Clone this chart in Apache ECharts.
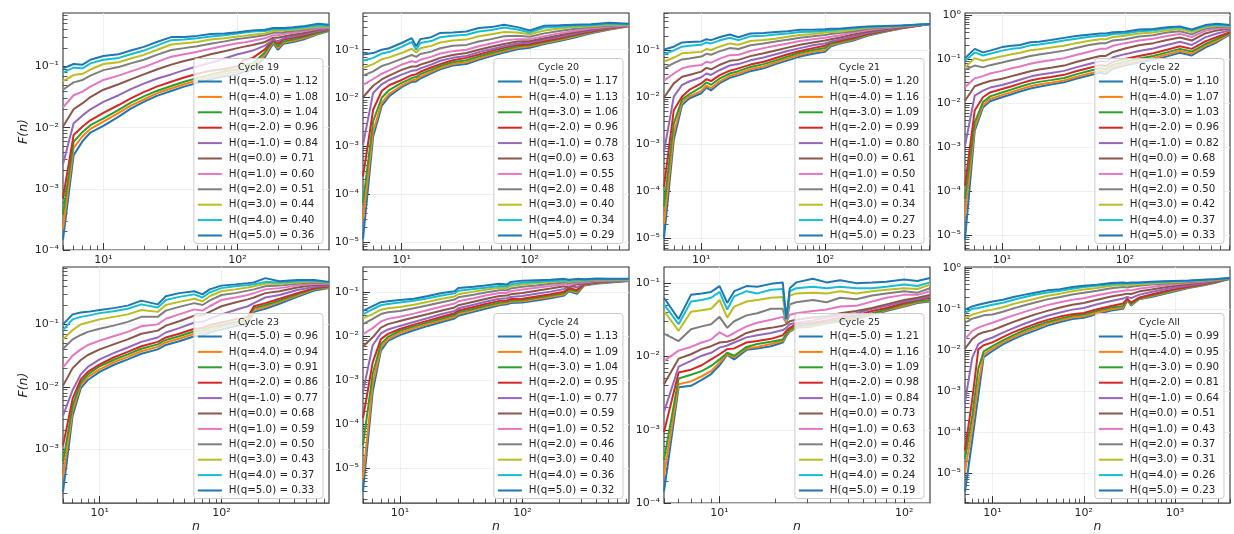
<!DOCTYPE html>
<html><head><meta charset="utf-8">
<script src="https://cdn.jsdelivr.net/npm/echarts@6/dist/echarts.min.js"></script>
<style>html,body{margin:0;padding:0;background:#fff}#c{width:1234px;height:534px}</style>
</head><body><div id="c"></div>
<script>
// ---------------- DATA (F(n) stored as log10 F) ----------------
const Q_LABELS = ['-5.0','-4.0','-3.0','-2.0','-1.0','0.0','1.0','2.0','3.0','4.0','5.0'];

const C19_N = [5,6,7,8,10,13,16,20,25,32,40,50,63,80,100,110,130,160,185,200,220,260,320,400,481];
const C19_H = [1.12,1.08,1.04,0.96,0.84,0.71,0.60,0.51,0.44,0.40,0.36];
const C19_LOGF = [
 [-3.83,-2.45,-2.22,-2.08,-1.97,-1.82,-1.69,-1.58,-1.48,-1.40,-1.33,-1.27,-1.21,-1.16,-1.13,-1.09,-1.05,-0.85,-0.62,-0.73,-0.63,-0.60,-0.55,-0.47,-0.42],
 [-3.65,-2.33,-2.14,-2.02,-1.90,-1.76,-1.64,-1.54,-1.44,-1.36,-1.29,-1.23,-1.17,-1.12,-1.09,-1.04,-1.00,-0.81,-0.60,-0.70,-0.61,-0.58,-0.53,-0.46,-0.41],
 [-3.42,-2.23,-2.07,-1.96,-1.85,-1.71,-1.59,-1.49,-1.40,-1.32,-1.25,-1.19,-1.13,-1.08,-1.05,-0.98,-0.95,-0.77,-0.58,-0.67,-0.59,-0.56,-0.51,-0.45,-0.41],
 [-3.15,-2.12,-1.98,-1.88,-1.76,-1.63,-1.52,-1.42,-1.33,-1.25,-1.18,-1.12,-1.07,-1.04,-1.00,-0.90,-0.86,-0.72,-0.56,-0.63,-0.56,-0.53,-0.49,-0.43,-0.40],
 [-2.60,-1.93,-1.80,-1.70,-1.58,-1.47,-1.37,-1.28,-1.20,-1.13,-1.06,-1.00,-0.94,-0.87,-0.80,-0.78,-0.74,-0.66,-0.56,-0.59,-0.54,-0.51,-0.47,-0.42,-0.39],
 [-1.98,-1.70,-1.60,-1.50,-1.38,-1.29,-1.21,-1.13,-1.05,-0.97,-0.91,-0.86,-0.80,-0.75,-0.70,-0.68,-0.65,-0.60,-0.53,-0.53,-0.51,-0.48,-0.45,-0.40,-0.38],
 [-1.67,-1.47,-1.41,-1.33,-1.22,-1.15,-1.08,-1.01,-0.93,-0.84,-0.80,-0.76,-0.71,-0.66,-0.62,-0.61,-0.58,-0.54,-0.49,-0.49,-0.47,-0.45,-0.42,-0.38,-0.37],
 [-1.38,-1.26,-1.22,-1.15,-1.06,-1.01,-0.95,-0.89,-0.81,-0.73,-0.70,-0.67,-0.63,-0.59,-0.55,-0.54,-0.52,-0.49,-0.45,-0.45,-0.44,-0.42,-0.40,-0.36,-0.36],
 [-1.24,-1.14,-1.12,-1.05,-0.96,-0.93,-0.87,-0.81,-0.73,-0.64,-0.62,-0.60,-0.56,-0.54,-0.51,-0.50,-0.48,-0.46,-0.42,-0.42,-0.41,-0.40,-0.38,-0.35,-0.35],
 [-1.10,-1.02,-1.03,-0.95,-0.89,-0.86,-0.80,-0.74,-0.66,-0.57,-0.56,-0.54,-0.51,-0.49,-0.46,-0.45,-0.43,-0.42,-0.39,-0.39,-0.39,-0.38,-0.36,-0.33,-0.34],
 [-1.03,-0.96,-0.97,-0.89,-0.83,-0.80,-0.74,-0.68,-0.60,-0.52,-0.52,-0.50,-0.47,-0.46,-0.44,-0.43,-0.41,-0.40,-0.37,-0.37,-0.37,-0.36,-0.34,-0.30,-0.32]
];

const C20_N = [5,6,7,8,10,12,13,14,17,20,25,32,40,50,63,80,100,130,170,220,300,420,594];
const C20_H = [1.17,1.13,1.06,0.96,0.78,0.63,0.55,0.48,0.40,0.34,0.29];
const C20_LOGF = [
 [-4.94,-2.81,-2.17,-1.97,-1.78,-1.67,-1.66,-1.60,-1.49,-1.41,-1.33,-1.30,-1.21,-1.13,-1.06,-0.99,-0.96,-0.88,-0.82,-0.75,-0.66,-0.58,-0.51],
 [-4.54,-2.70,-2.10,-1.92,-1.75,-1.64,-1.62,-1.56,-1.46,-1.38,-1.30,-1.26,-1.18,-1.10,-1.03,-0.96,-0.93,-0.86,-0.80,-0.73,-0.64,-0.57,-0.51],
 [-4.19,-2.49,-2.00,-1.84,-1.69,-1.59,-1.57,-1.51,-1.42,-1.34,-1.26,-1.22,-1.14,-1.07,-1.00,-0.93,-0.90,-0.84,-0.78,-0.71,-0.63,-0.56,-0.50],
 [-3.64,-2.25,-1.86,-1.74,-1.63,-1.53,-1.51,-1.46,-1.37,-1.30,-1.22,-1.17,-1.10,-1.03,-0.96,-0.90,-0.88,-0.82,-0.76,-0.69,-0.62,-0.55,-0.50],
 [-2.98,-1.90,-1.72,-1.63,-1.52,-1.44,-1.43,-1.39,-1.31,-1.23,-1.17,-1.13,-1.05,-0.99,-0.93,-0.87,-0.85,-0.79,-0.73,-0.67,-0.60,-0.54,-0.50],
 [-1.99,-1.75,-1.62,-1.54,-1.42,-1.35,-1.35,-1.31,-1.24,-1.17,-1.11,-1.07,-1.00,-0.94,-0.88,-0.83,-0.82,-0.76,-0.70,-0.64,-0.58,-0.53,-0.49],
 [-1.73,-1.61,-1.50,-1.43,-1.31,-1.24,-1.26,-1.21,-1.15,-1.08,-1.03,-1.00,-0.93,-0.87,-0.81,-0.78,-0.78,-0.72,-0.66,-0.61,-0.56,-0.52,-0.49],
 [-1.54,-1.45,-1.34,-1.29,-1.19,-1.11,-1.15,-1.09,-1.04,-0.97,-0.92,-0.90,-0.83,-0.78,-0.72,-0.71,-0.73,-0.66,-0.61,-0.57,-0.53,-0.50,-0.48],
 [-1.38,-1.30,-1.20,-1.16,-1.07,-0.98,-1.06,-0.97,-0.92,-0.85,-0.81,-0.79,-0.72,-0.68,-0.63,-0.64,-0.68,-0.60,-0.56,-0.53,-0.51,-0.48,-0.48],
 [-1.23,-1.17,-1.08,-1.05,-0.94,-0.84,-1.00,-0.86,-0.82,-0.74,-0.71,-0.69,-0.62,-0.59,-0.54,-0.58,-0.64,-0.54,-0.52,-0.50,-0.49,-0.46,-0.47],
 [-1.10,-1.07,-1.00,-0.97,-0.86,-0.76,-0.93,-0.78,-0.74,-0.65,-0.64,-0.62,-0.55,-0.53,-0.48,-0.53,-0.60,-0.50,-0.49,-0.48,-0.47,-0.44,-0.46]
];

const C21_N = [5,6,7,8,10,11,12,14,17,20,25,32,40,50,63,80,100,112,130,170,220,300,420,708];
const C21_H = [1.20,1.16,1.09,0.99,0.80,0.61,0.50,0.41,0.34,0.27,0.23];
const C21_LOGF = [
 [-5.00,-2.91,-2.17,-2.03,-1.92,-1.80,-1.86,-1.71,-1.59,-1.54,-1.45,-1.39,-1.30,-1.22,-1.14,-1.08,-1.04,-0.92,-0.87,-0.80,-0.70,-0.62,-0.54,-0.45],
 [-4.69,-2.77,-2.10,-1.99,-1.87,-1.76,-1.81,-1.67,-1.55,-1.50,-1.41,-1.35,-1.26,-1.18,-1.10,-1.04,-1.00,-0.89,-0.85,-0.78,-0.68,-0.61,-0.54,-0.45],
 [-4.33,-2.56,-2.05,-1.94,-1.79,-1.69,-1.74,-1.61,-1.50,-1.45,-1.36,-1.30,-1.22,-1.14,-1.06,-1.00,-0.96,-0.86,-0.83,-0.76,-0.67,-0.60,-0.53,-0.45],
 [-3.91,-2.28,-1.99,-1.85,-1.71,-1.62,-1.66,-1.54,-1.44,-1.39,-1.31,-1.25,-1.17,-1.09,-1.02,-0.96,-0.91,-0.83,-0.81,-0.74,-0.66,-0.59,-0.53,-0.45],
 [-3.16,-1.99,-1.74,-1.67,-1.58,-1.50,-1.53,-1.43,-1.33,-1.30,-1.22,-1.16,-1.09,-1.02,-0.96,-0.90,-0.86,-0.82,-0.78,-0.71,-0.64,-0.58,-0.52,-0.45],
 [-2.01,-1.71,-1.57,-1.53,-1.46,-1.38,-1.41,-1.32,-1.23,-1.21,-1.13,-1.07,-1.01,-0.95,-0.89,-0.84,-0.80,-0.77,-0.74,-0.67,-0.61,-0.56,-0.51,-0.45],
 [-1.65,-1.50,-1.39,-1.35,-1.32,-1.25,-1.27,-1.19,-1.11,-1.10,-1.02,-0.96,-0.91,-0.86,-0.81,-0.77,-0.74,-0.72,-0.69,-0.63,-0.58,-0.54,-0.50,-0.45],
 [-1.39,-1.28,-1.20,-1.18,-1.14,-1.08,-1.10,-1.03,-0.96,-0.98,-0.90,-0.86,-0.82,-0.78,-0.74,-0.71,-0.68,-0.66,-0.64,-0.60,-0.55,-0.52,-0.49,-0.45],
 [-1.25,-1.16,-1.07,-1.06,-1.04,-0.98,-1.00,-0.93,-0.86,-0.89,-0.81,-0.79,-0.76,-0.72,-0.68,-0.66,-0.63,-0.62,-0.61,-0.57,-0.53,-0.51,-0.49,-0.45],
 [-1.09,-1.01,-0.93,-0.91,-0.89,-0.84,-0.86,-0.80,-0.74,-0.79,-0.71,-0.70,-0.67,-0.65,-0.62,-0.61,-0.59,-0.58,-0.57,-0.54,-0.51,-0.50,-0.48,-0.45],
 [-0.99,-0.93,-0.84,-0.83,-0.82,-0.77,-0.79,-0.73,-0.67,-0.73,-0.65,-0.64,-0.62,-0.60,-0.57,-0.57,-0.56,-0.55,-0.55,-0.52,-0.50,-0.49,-0.48,-0.45]
];

const C22_N = [5,6,7,8,10,12,14,17,20,25,32,40,50,63,70,80,100,130,170,220,280,350,450,560,716];
const C22_H = [1.10,1.07,1.03,0.96,0.82,0.68,0.59,0.50,0.42,0.37,0.33];
const C22_LOGF = [
 [-5.10,-2.63,-2.10,-1.96,-1.87,-1.80,-1.74,-1.67,-1.63,-1.58,-1.53,-1.45,-1.38,-1.31,-1.34,-1.22,-1.15,-1.08,-1.02,-0.94,-0.86,-0.92,-0.74,-0.62,-0.44],
 [-4.56,-2.55,-2.05,-1.91,-1.82,-1.75,-1.69,-1.62,-1.58,-1.54,-1.49,-1.41,-1.34,-1.27,-1.29,-1.18,-1.11,-1.04,-0.98,-0.90,-0.82,-0.88,-0.70,-0.59,-0.43],
 [-4.18,-2.44,-1.98,-1.85,-1.76,-1.69,-1.63,-1.56,-1.52,-1.48,-1.43,-1.35,-1.28,-1.21,-1.23,-1.13,-1.06,-0.99,-0.93,-0.85,-0.77,-0.83,-0.66,-0.55,-0.41],
 [-3.88,-2.17,-1.87,-1.76,-1.68,-1.62,-1.56,-1.49,-1.45,-1.41,-1.36,-1.28,-1.21,-1.14,-1.16,-1.06,-1.00,-0.93,-0.87,-0.79,-0.71,-0.77,-0.60,-0.50,-0.39],
 [-2.97,-1.83,-1.72,-1.65,-1.59,-1.53,-1.47,-1.40,-1.36,-1.32,-1.27,-1.19,-1.12,-1.05,-1.06,-0.96,-0.89,-0.82,-0.76,-0.68,-0.61,-0.68,-0.51,-0.42,-0.35],
 [-1.95,-1.62,-1.55,-1.50,-1.45,-1.39,-1.34,-1.28,-1.24,-1.20,-1.15,-1.07,-1.00,-0.93,-0.93,-0.84,-0.76,-0.69,-0.64,-0.57,-0.51,-0.58,-0.42,-0.35,-0.31],
 [-1.64,-1.44,-1.39,-1.33,-1.27,-1.21,-1.17,-1.11,-1.07,-1.03,-0.98,-0.91,-0.84,-0.77,-0.77,-0.70,-0.64,-0.58,-0.54,-0.48,-0.43,-0.50,-0.36,-0.31,-0.29],
 [-1.24,-1.15,-1.19,-1.14,-1.08,-1.03,-0.99,-0.93,-0.90,-0.86,-0.81,-0.75,-0.69,-0.64,-0.64,-0.58,-0.55,-0.49,-0.46,-0.40,-0.37,-0.44,-0.31,-0.28,-0.27],
 [-1.19,-0.98,-1.04,-1.00,-0.94,-0.89,-0.86,-0.80,-0.78,-0.74,-0.70,-0.64,-0.59,-0.55,-0.55,-0.50,-0.47,-0.42,-0.40,-0.35,-0.32,-0.39,-0.28,-0.25,-0.25],
 [-1.04,-0.85,-0.92,-0.88,-0.81,-0.77,-0.75,-0.69,-0.67,-0.63,-0.58,-0.54,-0.50,-0.47,-0.47,-0.43,-0.42,-0.37,-0.35,-0.31,-0.28,-0.35,-0.25,-0.23,-0.24],
 [-0.98,-0.77,-0.85,-0.81,-0.73,-0.70,-0.68,-0.62,-0.61,-0.57,-0.52,-0.48,-0.45,-0.42,-0.42,-0.39,-0.38,-0.33,-0.32,-0.28,-0.26,-0.33,-0.23,-0.20,-0.23]
];

const C23_N = [5,6,7,8,10,13,17,22,30,35,45,60,70,80,100,130,165,185,230,300,420,580,766];
const C23_H = [0.96,0.94,0.91,0.86,0.77,0.68,0.59,0.50,0.43,0.37,0.33];
const C23_LOGF = [
 [-3.68,-2.46,-2.02,-1.89,-1.76,-1.65,-1.56,-1.47,-1.40,-1.33,-1.27,-1.19,-1.18,-1.13,-1.08,-1.03,-0.99,-0.80,-0.75,-0.67,-0.56,-0.46,-0.42],
 [-3.44,-2.38,-1.97,-1.84,-1.72,-1.61,-1.52,-1.43,-1.36,-1.29,-1.23,-1.15,-1.14,-1.09,-1.04,-0.99,-0.95,-0.77,-0.72,-0.64,-0.54,-0.44,-0.41],
 [-3.20,-2.30,-1.93,-1.80,-1.67,-1.57,-1.48,-1.39,-1.32,-1.25,-1.19,-1.11,-1.10,-1.05,-1.01,-0.96,-0.92,-0.74,-0.69,-0.62,-0.52,-0.43,-0.40],
 [-2.94,-2.19,-1.88,-1.76,-1.64,-1.53,-1.44,-1.35,-1.28,-1.21,-1.15,-1.07,-1.06,-1.01,-0.97,-0.92,-0.88,-0.71,-0.66,-0.59,-0.50,-0.42,-0.39],
 [-2.46,-2.05,-1.80,-1.68,-1.56,-1.46,-1.37,-1.28,-1.21,-1.13,-1.06,-0.97,-0.96,-0.91,-0.84,-0.77,-0.71,-0.66,-0.57,-0.53,-0.45,-0.40,-0.38],
 [-1.98,-1.70,-1.57,-1.49,-1.40,-1.32,-1.24,-1.15,-1.10,-1.02,-0.95,-0.86,-0.86,-0.80,-0.71,-0.65,-0.60,-0.57,-0.50,-0.47,-0.41,-0.37,-0.37],
 [-1.69,-1.50,-1.40,-1.33,-1.26,-1.19,-1.12,-1.03,-1.00,-0.91,-0.84,-0.76,-0.78,-0.71,-0.61,-0.57,-0.53,-0.50,-0.44,-0.42,-0.38,-0.35,-0.36],
 [-1.39,-1.24,-1.17,-1.12,-1.07,-1.02,-0.96,-0.88,-0.88,-0.78,-0.72,-0.66,-0.69,-0.62,-0.53,-0.50,-0.46,-0.44,-0.39,-0.38,-0.35,-0.33,-0.35],
 [-1.24,-1.09,-1.00,-0.97,-0.92,-0.88,-0.84,-0.77,-0.80,-0.69,-0.64,-0.59,-0.63,-0.55,-0.47,-0.44,-0.41,-0.39,-0.35,-0.35,-0.33,-0.31,-0.34],
 [-1.09,-0.92,-0.88,-0.86,-0.82,-0.79,-0.75,-0.68,-0.73,-0.61,-0.56,-0.52,-0.57,-0.49,-0.42,-0.39,-0.37,-0.36,-0.32,-0.33,-0.31,-0.30,-0.33],
 [-1.00,-0.84,-0.81,-0.80,-0.77,-0.74,-0.70,-0.62,-0.68,-0.55,-0.50,-0.47,-0.52,-0.44,-0.38,-0.36,-0.34,-0.33,-0.26,-0.31,-0.29,-0.29,-0.32]
];

const C24_N = [5,6,7,8,10,13,17,22,28,30,40,50,65,75,80,100,130,170,220,240,280,320,400,520,743];
const C24_H = [1.13,1.09,1.04,0.95,0.77,0.59,0.52,0.46,0.40,0.36,0.32];
const C24_LOGF = [
 [-5.52,-3.26,-2.32,-2.10,-1.97,-1.86,-1.76,-1.67,-1.59,-1.53,-1.44,-1.37,-1.29,-1.27,-1.24,-1.23,-1.18,-1.13,-1.07,-0.97,-1.03,-0.84,-0.80,-0.77,-0.74],
 [-5.22,-3.08,-2.25,-2.06,-1.92,-1.81,-1.72,-1.63,-1.55,-1.49,-1.40,-1.33,-1.26,-1.24,-1.21,-1.20,-1.15,-1.10,-1.04,-0.95,-1.00,-0.83,-0.79,-0.76,-0.73],
 [-4.47,-2.85,-2.17,-2.01,-1.87,-1.77,-1.68,-1.59,-1.51,-1.45,-1.37,-1.30,-1.23,-1.21,-1.18,-1.17,-1.12,-1.07,-1.01,-0.93,-0.97,-0.82,-0.78,-0.76,-0.73],
 [-3.86,-2.59,-2.06,-1.94,-1.83,-1.73,-1.64,-1.55,-1.47,-1.41,-1.33,-1.26,-1.19,-1.18,-1.15,-1.14,-1.09,-1.04,-0.98,-0.90,-0.94,-0.81,-0.77,-0.75,-0.73],
 [-3.26,-2.20,-1.93,-1.84,-1.76,-1.67,-1.58,-1.49,-1.42,-1.36,-1.28,-1.21,-1.14,-1.13,-1.10,-1.08,-1.03,-0.98,-0.92,-0.85,-0.88,-0.80,-0.76,-0.75,-0.73],
 [-2.23,-2.02,-1.80,-1.72,-1.65,-1.57,-1.49,-1.41,-1.34,-1.29,-1.21,-1.15,-1.08,-1.07,-1.04,-1.01,-0.96,-0.91,-0.86,-0.89,-0.81,-0.79,-0.75,-0.74,-0.72],
 [-1.95,-1.81,-1.66,-1.60,-1.55,-1.48,-1.40,-1.32,-1.25,-1.20,-1.13,-1.07,-1.01,-1.01,-0.97,-0.93,-0.89,-0.85,-0.81,-0.84,-0.78,-0.77,-0.74,-0.73,-0.72],
 [-1.72,-1.60,-1.49,-1.45,-1.42,-1.36,-1.29,-1.22,-1.16,-1.11,-1.05,-1.00,-0.95,-0.95,-0.91,-0.87,-0.84,-0.80,-0.77,-0.79,-0.75,-0.75,-0.72,-0.72,-0.71],
 [-1.59,-1.49,-1.39,-1.36,-1.33,-1.28,-1.21,-1.14,-1.09,-1.04,-0.98,-0.94,-0.89,-0.90,-0.85,-0.82,-0.79,-0.76,-0.74,-0.76,-0.73,-0.73,-0.71,-0.71,-0.71],
 [-1.50,-1.38,-1.29,-1.26,-1.23,-1.19,-1.13,-1.07,-1.02,-0.96,-0.92,-0.89,-0.85,-0.86,-0.81,-0.78,-0.76,-0.74,-0.72,-0.74,-0.71,-0.72,-0.70,-0.70,-0.70],
 [-1.42,-1.31,-1.22,-1.20,-1.17,-1.14,-1.08,-1.01,-0.97,-0.90,-0.87,-0.84,-0.80,-0.82,-0.76,-0.73,-0.72,-0.71,-0.69,-0.71,-0.69,-0.70,-0.68,-0.69,-0.69]
];

const C25_N = [5,6,7,8,9,10,11,12,14,16,19,22,23,24,26,32,38,45,55,67,80,100,118,138];
const C25_H = [1.21,1.16,1.09,0.98,0.84,0.73,0.63,0.46,0.32,0.24,0.19];
const C25_LOGF = [
 [-3.84,-2.42,-2.40,-2.32,-2.24,-2.12,-1.98,-2.04,-1.91,-1.89,-1.86,-1.81,-1.72,-1.66,-1.61,-1.59,-1.55,-1.52,-1.49,-1.43,-1.38,-1.32,-1.27,-1.25],
 [-3.62,-2.38,-2.34,-2.27,-2.20,-2.08,-1.97,-2.01,-1.89,-1.87,-1.83,-1.79,-1.70,-1.65,-1.60,-1.58,-1.54,-1.51,-1.47,-1.42,-1.37,-1.31,-1.26,-1.24],
 [-3.41,-2.30,-2.25,-2.20,-2.13,-2.04,-1.95,-1.99,-1.87,-1.83,-1.80,-1.77,-1.69,-1.63,-1.59,-1.56,-1.53,-1.50,-1.46,-1.41,-1.36,-1.29,-1.25,-1.23],
 [-3.03,-2.22,-2.18,-2.12,-2.04,-1.97,-1.90,-1.89,-1.81,-1.79,-1.76,-1.71,-1.65,-1.61,-1.56,-1.54,-1.51,-1.47,-1.44,-1.38,-1.34,-1.27,-1.23,-1.20],
 [-2.76,-2.14,-2.06,-1.99,-1.95,-1.88,-1.85,-1.81,-1.74,-1.71,-1.68,-1.64,-1.61,-1.56,-1.54,-1.51,-1.47,-1.44,-1.41,-1.35,-1.31,-1.25,-1.22,-1.18],
 [-2.38,-2.03,-1.97,-1.90,-1.86,-1.81,-1.80,-1.77,-1.68,-1.64,-1.61,-1.58,-1.56,-1.52,-1.50,-1.47,-1.45,-1.41,-1.38,-1.34,-1.29,-1.23,-1.20,-1.16],
 [-2.06,-1.92,-1.87,-1.81,-1.77,-1.67,-1.73,-1.68,-1.59,-1.54,-1.50,-1.46,-1.54,-1.43,-1.41,-1.38,-1.36,-1.32,-1.31,-1.25,-1.20,-1.16,-1.16,-1.11],
 [-1.69,-1.79,-1.63,-1.59,-1.56,-1.46,-1.61,-1.52,-1.44,-1.41,-1.35,-1.35,-1.54,-1.29,-1.26,-1.23,-1.26,-1.20,-1.22,-1.17,-1.14,-1.11,-1.13,-1.07],
 [-1.38,-1.65,-1.39,-1.37,-1.35,-1.23,-1.47,-1.32,-1.25,-1.23,-1.20,-1.19,-1.52,-1.17,-1.14,-1.13,-1.14,-1.11,-1.14,-1.11,-1.09,-1.07,-1.08,-1.02],
 [-1.29,-1.56,-1.25,-1.23,-1.20,-1.12,-1.36,-1.18,-1.11,-1.14,-1.09,-1.08,-1.49,-1.11,-1.07,-1.05,-1.07,-1.05,-1.07,-1.07,-1.05,-1.02,-1.04,-0.99],
 [-1.20,-1.49,-1.16,-1.14,-1.12,-1.04,-1.27,-1.11,-1.04,-1.05,-1.01,-0.99,-1.49,-1.07,-0.99,-0.94,-0.99,-0.96,-1.00,-0.99,-0.98,-0.95,-0.97,-0.93]
];

const CALL_N = [5,6,7,8,10,13,17,22,30,40,55,75,100,140,200,270,300,330,400,550,750,1000,1400,2000,2700,4000];
const CALL_H = [0.99,0.95,0.90,0.81,0.64,0.51,0.43,0.37,0.31,0.26,0.23];
const CALL_LOGF = [
 [-5.45,-4.20,-3.10,-2.17,-2.02,-1.86,-1.73,-1.62,-1.51,-1.40,-1.31,-1.24,-1.21,-1.12,-1.03,-0.99,-0.78,-0.91,-0.76,-0.70,-0.63,-0.56,-0.48,-0.42,-0.36,-0.26],
 [-4.96,-3.90,-2.80,-2.10,-1.96,-1.81,-1.68,-1.57,-1.46,-1.35,-1.27,-1.20,-1.17,-1.08,-1.00,-0.96,-0.77,-0.89,-0.75,-0.68,-0.61,-0.54,-0.47,-0.41,-0.35,-0.26],
 [-4.64,-3.60,-2.45,-2.03,-1.90,-1.76,-1.63,-1.52,-1.41,-1.31,-1.23,-1.16,-1.13,-1.04,-0.96,-0.92,-0.76,-0.87,-0.74,-0.66,-0.59,-0.52,-0.46,-0.40,-0.34,-0.26],
 [-4.44,-3.20,-1.98,-1.88,-1.81,-1.68,-1.56,-1.46,-1.35,-1.26,-1.18,-1.12,-1.09,-1.00,-0.92,-0.86,-0.74,-0.84,-0.72,-0.64,-0.57,-0.51,-0.45,-0.39,-0.33,-0.25],
 [-3.27,-2.18,-1.85,-1.77,-1.69,-1.57,-1.46,-1.36,-1.25,-1.16,-1.08,-1.01,-0.97,-0.88,-0.80,-0.74,-0.70,-0.73,-0.65,-0.58,-0.52,-0.47,-0.42,-0.37,-0.32,-0.25],
 [-1.96,-1.73,-1.61,-1.56,-1.51,-1.41,-1.31,-1.22,-1.12,-1.04,-0.96,-0.89,-0.85,-0.77,-0.69,-0.64,-0.62,-0.63,-0.57,-0.52,-0.47,-0.43,-0.39,-0.35,-0.31,-0.25],
 [-1.73,-1.53,-1.45,-1.40,-1.33,-1.24,-1.15,-1.07,-0.98,-0.90,-0.83,-0.77,-0.73,-0.66,-0.59,-0.55,-0.54,-0.54,-0.50,-0.46,-0.42,-0.39,-0.36,-0.33,-0.30,-0.25],
 [-1.33,-1.23,-1.19,-1.15,-1.13,-1.06,-0.98,-0.91,-0.83,-0.76,-0.70,-0.64,-0.60,-0.55,-0.49,-0.46,-0.47,-0.45,-0.43,-0.40,-0.38,-0.36,-0.34,-0.31,-0.29,-0.25],
 [-1.23,-1.13,-1.09,-1.05,-1.01,-0.95,-0.87,-0.81,-0.74,-0.67,-0.62,-0.56,-0.52,-0.48,-0.43,-0.41,-0.42,-0.41,-0.39,-0.37,-0.35,-0.34,-0.32,-0.30,-0.28,-0.24],
 [-1.09,-0.99,-0.97,-0.94,-0.89,-0.84,-0.77,-0.71,-0.64,-0.59,-0.55,-0.50,-0.46,-0.43,-0.39,-0.37,-0.38,-0.37,-0.36,-0.35,-0.33,-0.32,-0.31,-0.29,-0.27,-0.24],
 [-1.01,-0.93,-0.89,-0.86,-0.81,-0.77,-0.70,-0.65,-0.59,-0.54,-0.51,-0.46,-0.43,-0.40,-0.36,-0.35,-0.36,-0.35,-0.35,-0.33,-0.32,-0.31,-0.30,-0.28,-0.27,-0.24]
];

// ---------------- LAYOUT / STYLE ----------------
const COLORS = ['#1f77b4','#ff7f0e','#2ca02c','#d62728','#9467bd','#8c564b','#e377c2','#7f7f7f','#bcbd22','#17becf','#1f77b4'];
const PANELS = [
 {title:'Cycle 19', n:C19_N, H:C19_H, logF:C19_LOGF, xr:[5,481],  yr:[-4.0,-0.126], box:[63,13,266,237],  row:0, col:0},
 {title:'Cycle 20', n:C20_N, H:C20_H, logF:C20_LOGF, xr:[5,594],  yr:[-5.17,-0.236], box:[363,13,266,237], row:0, col:1},
 {title:'Cycle 21', n:C21_N, H:C21_H, logF:C21_LOGF, xr:[5,708],  yr:[-5.25,-0.214], box:[664,13,266,237], row:0, col:2},
 {title:'Cycle 22', n:C22_N, H:C22_H, logF:C22_LOGF, xr:[5,716],  yr:[-5.34,0.045],  box:[965,13,265,237], row:0, col:3},
 {title:'Cycle 23', n:C23_N, H:C23_H, logF:C23_LOGF, xr:[5,766],  yr:[-3.86,-0.082], box:[63,267,266,238],  row:1, col:0},
 {title:'Cycle 24', n:C24_N, H:C24_H, logF:C24_LOGF, xr:[5,743],  yr:[-5.79,-0.42],  box:[363,267,266,238], row:1, col:1},
 {title:'Cycle 25', n:C25_N, H:C25_H, logF:C25_LOGF, xr:[5,138],  yr:[-4.0,-0.78],   box:[664,267,266,238], row:1, col:2},
 {title:'Cycle All',n:CALL_N,H:CALL_H,logF:CALL_LOGF,xr:[5,4000], yr:[-5.73,0.03],   box:[965,267,265,238], row:1, col:3}
];
const FONT = 'DejaVu Sans';
const TXT = '#262626';
const SUP = {'-':'\u207B','0':'\u2070','1':'\u00B9','2':'\u00B2','3':'\u00B3','4':'\u2074','5':'\u2075','6':'\u2076','7':'\u2077','8':'\u2078','9':'\u2079'};
function fmtPow(v){const e=Math.round(Math.log10(v));return '10'+String(e).split('').map(c=>SUP[c]).join('');}
function majors(a,b){const r=[];for(let e=Math.ceil(Math.log10(a)-1e-9);e<=Math.floor(Math.log10(b)+1e-9);e++)r.push(Math.pow(10,e));return r;}
function minors(a,b){const r=[];for(let e=Math.floor(Math.log10(a))-1;e<=Math.ceil(Math.log10(b));e++)for(let k=2;k<=9;k++){const v=k*Math.pow(10,e);if(v>=a&&v<=b)r.push(v);}return r;}

const LEG_FS = 10.3, LEG_PAD = [17,5,2,4], LEG_ITEM_H = 12, LEG_GAP = 3.4, ICON_W = 24;
const mctx = document.createElement('canvas').getContext('2d');
mctx.font = LEG_FS + 'px "' + FONT + '"';

const grids=[], xAxes=[], yAxes=[], series=[], legends=[], graphics=[];
PANELS.forEach((p,i)=>{
  const [L,T,W,Hh] = p.box;
  grids.push({left:L, top:T, width:W, height:Hh, show:true, borderColor:'#333333', borderWidth:1.1, backgroundColor:'rgba(0,0,0,0)'});
  const xmin=p.xr[0], xmax=p.xr[1], ymin=Math.pow(10,p.yr[0]), ymax=Math.pow(10,p.yr[1]);
  const xM=majors(xmin,xmax), yM=majors(ymin,ymax);
  xAxes.push({type:'log', logBase:10, gridIndex:i, min:xmin, max:xmax, position:'bottom',
    axisLine:{show:false},
    axisTick:{show:true, inside:true, length:7, customValues:xM, lineStyle:{color:'#333', width:1}},
    axisLabel:{show:true, customValues:xM, formatter:fmtPow, fontSize:11, fontFamily:FONT, color:TXT, margin:5},
    splitLine:{show:true, lineStyle:{color:'#ececec', width:0.8}},
    name: p.row===1 ? 'n' : '', nameLocation:'middle', nameGap:16,
    nameTextStyle:{fontStyle:'italic', fontSize:12.5, fontFamily:FONT, color:TXT}});
  xAxes.push({type:'log', logBase:10, gridIndex:i, min:xmin, max:xmax, position:'bottom', offset:0,
    axisLine:{show:false}, axisLabel:{show:false}, splitLine:{show:false},
    axisTick:{show:true, inside:true, length:4.5, customValues:minors(xmin,xmax), lineStyle:{color:'#333', width:0.8}}});
  yAxes.push({type:'log', logBase:10, gridIndex:i, min:ymin, max:ymax, position:'left',
    axisLine:{show:false},
    axisTick:{show:true, inside:true, length:7, customValues:yM, lineStyle:{color:'#333', width:1}},
    axisLabel:{show:true, customValues:yM, formatter:fmtPow, fontSize:11, fontFamily:FONT, color:TXT, margin:4},
    splitLine:{show:true, lineStyle:{color:'#ececec', width:0.8}},
    name: p.col===0 ? 'F(n)' : '', nameLocation:'middle', nameGap:33, nameRotate:90,
    nameTextStyle:{fontStyle:'italic', fontSize:12.5, fontFamily:FONT, color:TXT}});
  yAxes.push({type:'log', logBase:10, gridIndex:i, min:ymin, max:ymax, position:'left', offset:0,
    axisLine:{show:false}, axisLabel:{show:false}, splitLine:{show:false},
    axisTick:{show:true, inside:true, length:4.5, customValues:minors(ymin,ymax), lineStyle:{color:'#333', width:0.8}}});

  const names = [];
  p.logF.forEach((row,qi)=>{
    if (row.length !== p.n.length) console.error('length mismatch', p.title, qi, row.length, p.n.length);
    const name = 'H(q=' + Q_LABELS[qi] + ') = ' + p.H[qi].toFixed(2);
    names.push(name);
    series.push({type:'line', name:name, xAxisIndex:2*i, yAxisIndex:2*i,
      data: p.n.map((nv,k)=>[nv, Math.pow(10,row[k])]),
      symbol:'none', showSymbol:false, silent:true, animation:false,
      color: COLORS[qi], lineStyle:{width:2, color:COLORS[qi]}, z:2});
  });

  const textW = Math.max(...names.map(s=>mctx.measureText(s).width));
  const legW = LEG_PAD[3] + ICON_W + 5 + 2 + textW + LEG_PAD[1];
  const legH = LEG_PAD[0] + 11*LEG_ITEM_H + 10*LEG_GAP + LEG_PAD[2];
  const legRight = L + W - 6;
  const legBottom = T + Hh - 6.5;
  legends.push({data:names, orient:'vertical', right:1234-legRight, bottom:534-legBottom,
    padding:LEG_PAD, itemWidth:ICON_W, itemHeight:2, itemGap:LEG_GAP, icon:'rect',
    backgroundColor:'rgba(255,255,255,0.8)', borderColor:'#cccccc', borderWidth:1, borderRadius:3,
    textStyle:{fontSize:LEG_FS, fontFamily:FONT, color:TXT, lineHeight:LEG_ITEM_H, padding:[0,0,0,2]},
    selectedMode:false, z:5});
  graphics.push({type:'text', x: legRight - legW/2, y: legBottom - legH + 9, z:100,
    style:{text:p.title, fontSize:9.5, fontFamily:FONT, fill:TXT, align:'center', verticalAlign:'middle'}});
});

const chart = echarts.init(document.getElementById('c'), null, {renderer:'canvas'});
chart.setOption({animation:false, backgroundColor:'#ffffff', grid:grids, xAxis:xAxes, yAxis:yAxes,
  series:series, legend:legends, graphic:graphics, tooltip:{show:false}});
</script>
</body></html>
